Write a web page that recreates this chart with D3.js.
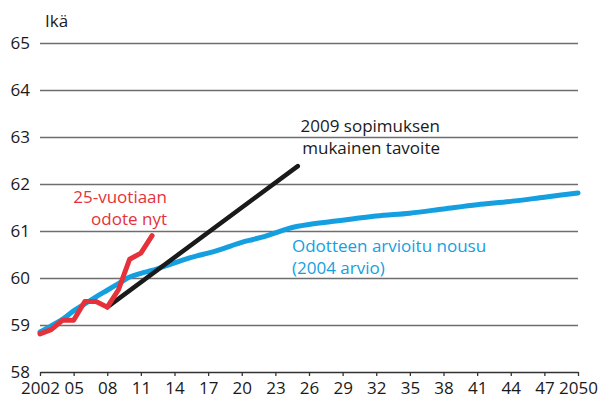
<!DOCTYPE html>
<html>
<head>
<meta charset="utf-8">
<script src="https://cdn.jsdelivr.net/npm/d3@7"></script>
<style>
  body { margin: 0; background: #fff; }
  text { font-family: "Open Sans", sans-serif; font-size: 17px; }
</style>
</head>
<body>
<div id="chart"></div>
<script>
// data
const yTicks = [58, 59, 60, 61, 62, 63, 64, 65];
const xTicks = [2002, 2005, 2008, 2011, 2014, 2017, 2020, 2023, 2026, 2029, 2032, 2035, 2038, 2041, 2044, 2047, 2050];

// 25-vuotiaan odote nyt
const redYears = [2002, 2003, 2004, 2005, 2006, 2007, 2008, 2009, 2010, 2011, 2012];
const redValues = [58.81, 58.9, 59.1, 59.1, 59.5, 59.5, 59.38, 59.75, 60.4, 60.53, 60.9];

// 2009 sopimuksen mukainen tavoite
const blackYears = [2008, 2025];
const blackValues = [59.38, 62.38];

// Odotteen arvioitu nousu (2004 arvio)
const blueYears = [2002, 2003, 2004, 2005, 2006, 2007, 2008, 2009, 2010, 2011, 2012, 2013, 2014, 2015, 2016, 2017, 2018, 2019, 2020, 2021, 2022, 2023, 2024, 2025, 2026, 2028, 2030, 2032, 2035, 2038, 2041, 2044, 2047, 2050];
const blueValues = [58.85, 58.98, 59.12, 59.3, 59.45, 59.6, 59.74, 59.88, 60.02, 60.1, 60.16, 60.24, 60.32, 60.4, 60.47, 60.53, 60.6, 60.68, 60.76, 60.82, 60.88, 60.96, 61.04, 61.1, 61.14, 61.2, 61.26, 61.32, 61.38, 61.47, 61.56, 61.63, 61.72, 61.81];

const svgWidth = 600,
    svgHeight = 404,
    margin = { top: 43, right: 22, bottom: 32, left: 40 },
    width = svgWidth - margin.left - margin.right,
    height = svgHeight - margin.top - margin.bottom;

let svg = d3.select("#chart").append("svg")
    .attr("width", svgWidth)
    .attr("height", svgHeight);
let g = svg.append("g")
    .attr("transform", `translate(${margin.left},${margin.top})`);

let xScale = d3.scaleLinear().domain([2002, 2050]).range([0, width]);
let yScale = d3.scaleLinear().domain([58, 65]).range([height, 0]);

// gridlines
g.selectAll(".grid")
    .data(yTicks.filter((d) => d > 58))
    .join("line")
    .attr("x1", 0)
    .attr("x2", width)
    .attr("y1", (d) => yScale(d) + 0.5)
    .attr("y2", (d) => yScale(d) + 0.5)
    .attr("stroke", "#6e6e6e")
    .attr("stroke-width", 1.3);

// y labels
g.selectAll(".ylab")
    .data(yTicks)
    .join("text")
    .attr("x", -10)
    .attr("y", (d) => yScale(d))
    .attr("dy", "0.35em")
    .attr("text-anchor", "end")
    .attr("fill", "#1a1a1a")
    .text((d) => d);

g.append("text")
    .attr("x", 5)
    .attr("y", -16)
    .attr("fill", "#1a1a1a")
    .text("Ikä");

// x axis
let xAxis = g.append("g")
    .attr("transform", `translate(0,${height})`)
    .call(d3.axisBottom(xScale)
        .tickValues(xTicks)
        .tickSize(4)
        .tickSizeOuter(0)
        .tickFormat((d) => (d == 2002 || d == 2050) ? String(d) : String(d).slice(2)));
xAxis.select(".domain").attr("stroke", "#333").attr("stroke-width", 1.3);
xAxis.selectAll(".tick line").attr("stroke", "#333").attr("stroke-width", 1.3);
xAxis.selectAll(".tick text")
    .attr("fill", "#1a1a1a")
    .attr("y", 10)
    .style("font-size", "17px")
    .style("font-family", "'Open Sans', sans-serif");

// lines
let line = d3.line()
    .x((d) => xScale(d[0]))
    .y((d) => yScale(d[1]));

g.append("path")
    .datum(blueYears.map((y, i) => [y, blueValues[i]]))
    .attr("d", line.curve(d3.curveMonotoneX))
    .attr("fill", "none")
    .attr("stroke", "#139fe0")
    .attr("stroke-width", 5)
    .attr("stroke-linecap", "round")
    .attr("stroke-linejoin", "round");

g.append("path")
    .datum(blackYears.map((y, i) => [y, blackValues[i]]))
    .attr("d", line.curve(d3.curveLinear))
    .attr("fill", "none")
    .attr("stroke", "#1a1a1a")
    .attr("stroke-width", 4.5)
    .attr("stroke-linecap", "round");

g.append("path")
    .datum(redYears.map((y, i) => [y, redValues[i]]))
    .attr("d", line.curve(d3.curveLinear))
    .attr("fill", "none")
    .attr("stroke", "#e5323a")
    .attr("stroke-width", 5)
    .attr("stroke-linecap", "round")
    .attr("stroke-linejoin", "round");

// labels
function label(lines, x, y, anchor, color) {
    let t = svg.append("text")
        .attr("text-anchor", anchor)
        .attr("fill", color);
    lines.forEach((s, i) => {
        t.append("tspan").attr("x", x).attr("y", y + i * 21.5).text(s);
    });
}
label(["25-vuotiaan", "odote nyt"], 167, 203, "end", "#e5323a");
label(["2009 sopimuksen", "mukainen tavoite"], 440, 132, "end", "#1a1a1a");
label(["Odotteen arvioitu nousu", "(2004 arvio)"], 292, 252, "start", "#139fe0");
</script>
</body>
</html>
